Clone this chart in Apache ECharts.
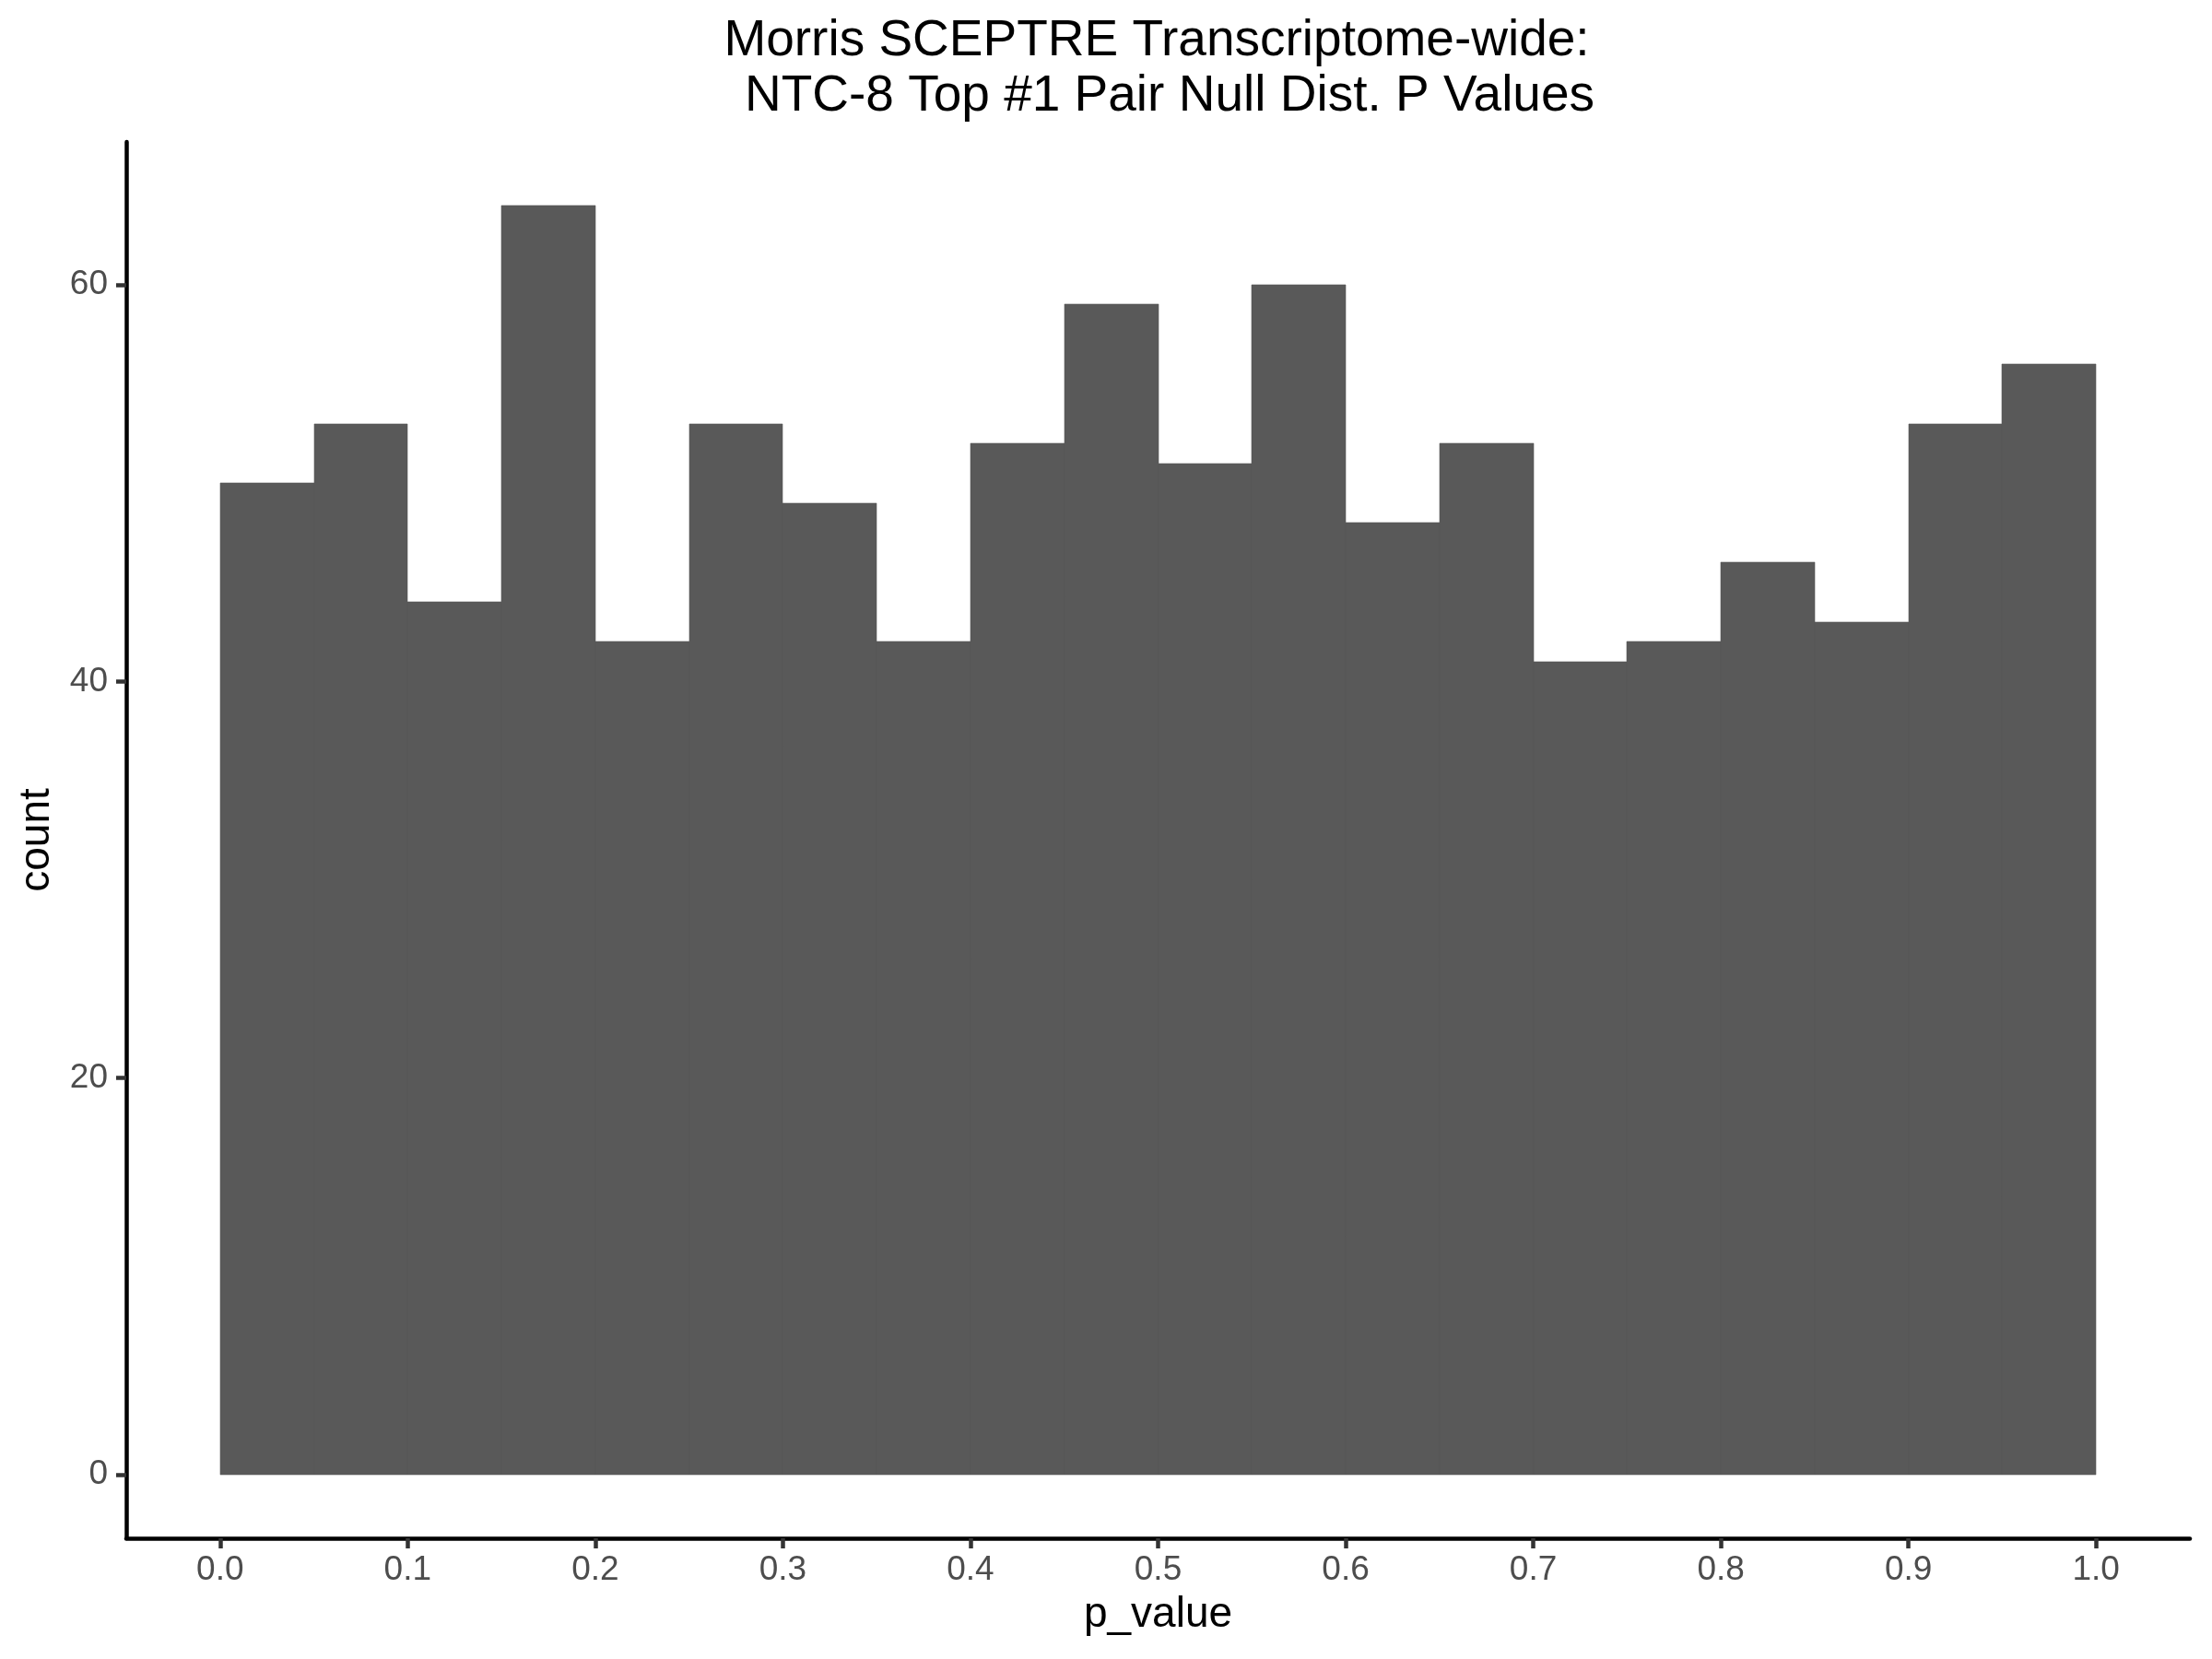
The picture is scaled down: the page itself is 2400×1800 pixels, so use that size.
<!DOCTYPE html>
<html>
<head>
<meta charset="utf-8">
<script src="https://cdn.jsdelivr.net/npm/echarts@6/dist/echarts.min.js"></script>
<style>html,body{margin:0;padding:0;background:#fff}#c{width:2400px;height:1800px}</style>
</head>
<body>
<div id="c"></div>
<script>
const binLeft  = [0.00,0.05,0.10,0.15,0.20,0.25,0.30,0.35,0.40,0.45,0.50,0.55,0.60,0.65,0.70,0.75,0.80,0.85,0.90,0.95];
const binRight = [0.05,0.10,0.15,0.20,0.25,0.30,0.35,0.40,0.45,0.50,0.55,0.60,0.65,0.70,0.75,0.80,0.85,0.90,0.95,1.00];
const counts   = [50,53,44,64,42,53,49,42,52,59,51,60,48,52,41,42,46,43,53,56];
const xTicks = [0.0,0.1,0.2,0.3,0.4,0.5,0.6,0.7,0.8,0.9,1.0];
const yTicks = [0,20,40,60];
const titleLine1 = "Morris SCEPTRE Transcriptome-wide:";
const titleLine2 = "NTC-8 Top #1 Pair Null Dist. P Values";

const chart = echarts.init(document.getElementById('c'), null, {renderer:'canvas'});
const data = counts.map((c,i)=>[binLeft[i], binRight[i], c]);
const font = "'Liberation Sans', Arial, sans-serif";
const tStyle = {fontFamily:font,fontSize:55,fontWeight:'normal',color:'#000'};
chart.setOption({
  animation:false,
  backgroundColor:'#fff',
  title:[
    {text:titleLine1, left:1250, top:12, textAlign:'center', textStyle:tStyle},
    {text:titleLine2, left:1264, top:72, textAlign:'center', textStyle:tStyle}
  ],
  grid:{left:137,right:24,top:154,bottom:131},
  xAxis:{
    type:'value', min:-0.05, max:1.05,
    name:'p_value', nameLocation:'middle', nameGap:60,
    nameTextStyle:{fontFamily:font,fontSize:46,color:'#000'},
    axisLine:{show:true,onZero:false,lineStyle:{color:'#000',width:4.5}},
    axisTick:{show:true,length:11,customValues:xTicks,lineStyle:{color:'#333',width:4.5}},
    axisLabel:{customValues:xTicks,margin:16,fontFamily:font,fontSize:37,color:'#4D4D4D',
      formatter:v=>v.toFixed(1)},
    splitLine:{show:false}
  },
  yAxis:{
    type:'value', min:-3.2, max:67.2,
    name:'count', nameLocation:'middle', nameGap:74, nameRotate:90,
    nameTextStyle:{fontFamily:font,fontSize:46,color:'#000'},
    axisLine:{show:true,onZero:false,lineStyle:{color:'#000',width:4.5}},
    axisTick:{show:true,length:11,customValues:yTicks,lineStyle:{color:'#333',width:4.5}},
    axisLabel:{customValues:yTicks,margin:20,fontFamily:font,fontSize:37,color:'#4D4D4D'},
    splitLine:{show:false}
  },
  series:[{
    type:'custom',
    data:data,
    encode:{x:[0,1],y:2},
    renderItem:function(params,api){
      const p0 = api.coord([api.value(0), api.value(2)]);
      const p1 = api.coord([api.value(1), 0]);
      const x0 = Math.round(p0[0]), x1 = Math.round(p1[0]);
      const y0 = Math.round(p0[1]), y1 = Math.round(p1[1]);
      return {type:'rect',shape:{x:x0,y:y0,width:x1-x0,height:y1-y0},
        style:{fill:'#595959',stroke:'#595959',lineWidth:0.6}};
    }
  }]
});
</script>
</body>
</html>
